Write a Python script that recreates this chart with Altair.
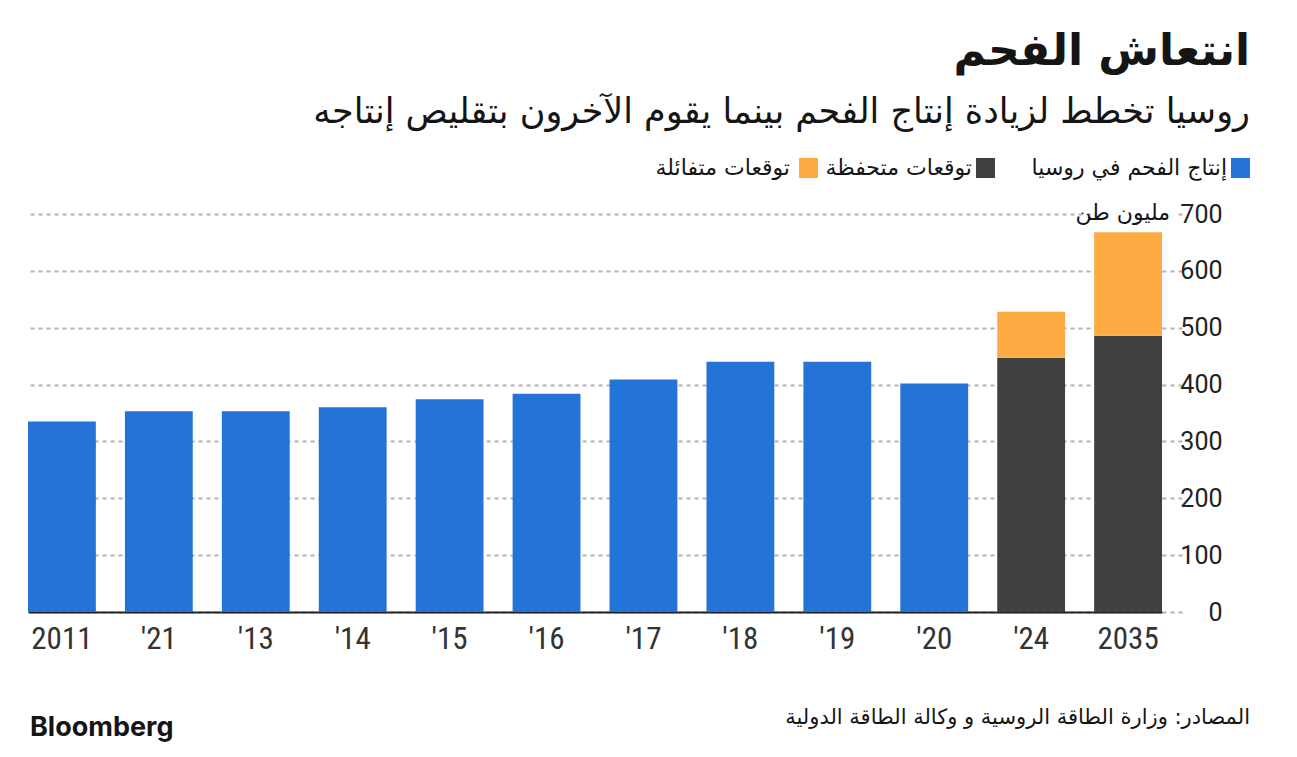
import altair as alt
import pandas as pd

# ---- data ----
years = ["2011", "'21", "'13", "'14", "'15", "'16", "'17", "'18", "'19", "'20", "'24", "2035"]
production = [335, 353, 353, 360, 374, 384, 409, 440, 440, 402, None, None]
conservative = [None, None, None, None, None, None, None, None, None, None, 447, 486]
optimistic = [None, None, None, None, None, None, None, None, None, None, 528, 668]
y_ticks = [0, 100, 200, 300, 400, 500, 600, 700]

title_text = "انتعاش الفحم"
subtitle_text = "روسيا تخطط لزيادة إنتاج الفحم بينما يقوم الآخرون بتقليص إنتاجه"
legend_labels = ["إنتاج الفحم في روسيا", "توقعات متحفظة", "توقعات متفائلة"]
unit_text = "مليون طن"
source_text = "المصادر: وزارة الطاقة الروسية و وكالة الطاقة الدولية"
logo_text = "Bloomberg"

BLUE = "#2474d8"
DARK = "#404040"
ORANGE = "#fdac44"
TEXT = "#151515"
ARABIC_FONT = "DejaVu Sans"

df = pd.DataFrame({
    "year": years,
    "production": production,
    "conservative": conservative,
    "optimistic": optimistic,
})

W, H = 1134, 398

x = alt.X(
    "year:N",
    sort=years,
    scale=alt.Scale(paddingInner=0.3, paddingOuter=0),
    axis=alt.Axis(
        title=None, labelAngle=0, ticks=False, domain=True, domainColor="#222222",
        domainWidth=2, labelFontSize=31, labelColor="#333333",
        labelFont="Liberation Sans Narrow, Roboto Condensed, Liberation Sans",
        labelPadding=12, labelBaseline="top", grid=False,
    ),
)
y_axis = alt.Axis(
    title=None, orient="right", values=y_ticks, grid=True, gridDash=[4, 4],
    gridColor="#b3b3b3", gridWidth=2, ticks=True, tickSize=22, tickDash=[4, 4],
    tickColor="#b3b3b3", tickWidth=2, domain=False, labelAlign="right",
    labelPadding=38, labelFontSize=25, labelColor="#222222", labelFont="Roboto",
    labelBaseline="middle",
)
yscale = alt.Scale(domain=[0, 700], nice=False)

base = alt.Chart(df)
blue_bars = base.mark_bar(color=BLUE).encode(
    x=x, y=alt.Y("production:Q", scale=yscale, axis=y_axis)
)
dark_bars = base.mark_bar(color=DARK).encode(
    x=x, y=alt.Y("conservative:Q", scale=yscale)
)
orange_bars = base.mark_bar(color=ORANGE).encode(
    x=x, y=alt.Y("optimistic:Q", scale=yscale), y2="conservative:Q"
)

one = pd.DataFrame({"k": [0]})
anno = alt.Chart(one)


def txt(text, xv, yv, size, align="right", weight="normal", font=ARABIC_FONT, color=TEXT):
    return anno.mark_text(
        text=text, align=align, baseline="middle", fontSize=size,
        fontWeight=weight, font=font, color=color,
    ).encode(x=alt.value(xv), y=alt.value(yv))


def square(xv, color):
    return anno.mark_rect(color=color).encode(
        x=alt.value(xv), x2=alt.value(xv + 19), y=alt.value(-56), y2=alt.value(-36)
    )


layers = [
    blue_bars, dark_bars, orange_bars,
    # unit label with white background covering the gridline
    anno.mark_rect(color="white").encode(
        x=alt.value(1068), x2=alt.value(1150), y=alt.value(-14), y2=alt.value(13)
    ),
    txt(unit_text, 1142, -1, 22),
    txt(title_text, 1222, -162, 44, weight="bold"),
    txt(subtitle_text, 1222, -102, 35),
    square(1203, BLUE), txt(legend_labels[0], 1199, -46, 22),
    square(948, DARK), txt(legend_labels[1], 944, -46, 22),
    square(771, ORANGE), txt(legend_labels[2], 762, -46, 22),
    txt(source_text, 1222, 504, 21),
    txt(logo_text, 2, 514, 27, align="left", weight="bold", font="Inter"),
]

chart = alt.layer(*layers).properties(
    width=W, height=H,
    autosize=alt.AutoSizeParams(type="none"),
    padding={"left": 20, "top": 206, "right": 127, "bottom": 134},
    background="white",
).configure_view(stroke=None)

chart.save("out.html", embed_options={"renderer": "svg", "actions": False})
